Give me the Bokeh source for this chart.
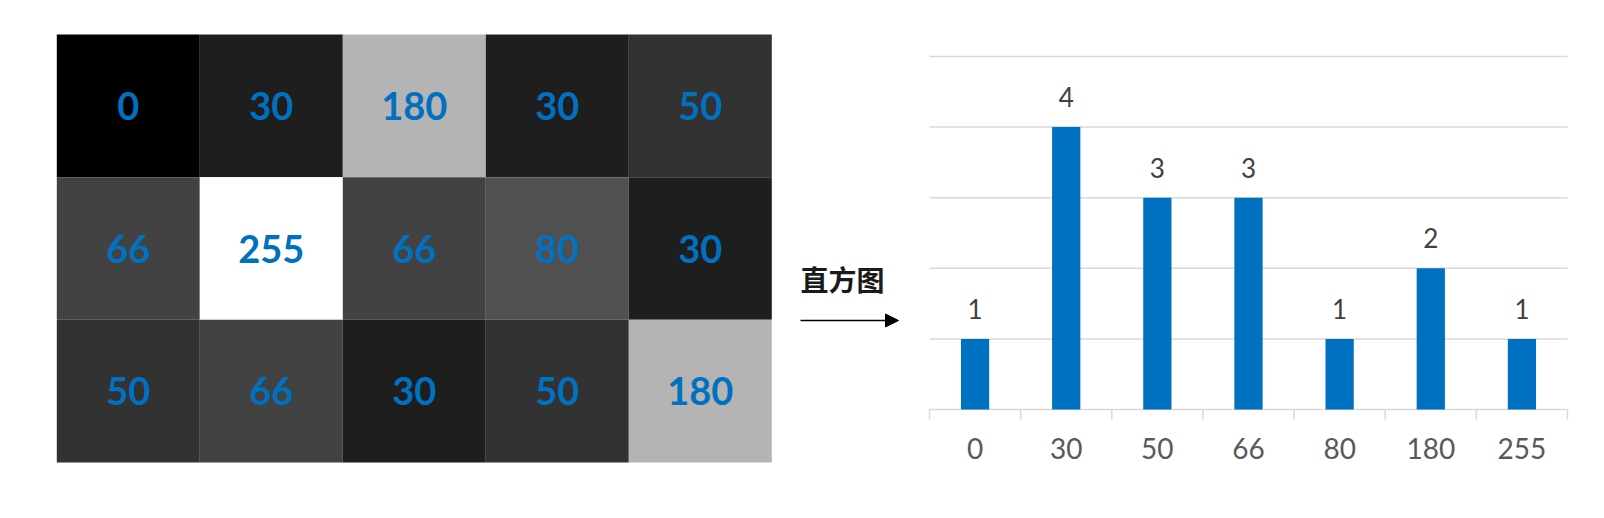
from bokeh.plotting import figure
from bokeh.layouts import row
from bokeh.models import ColumnDataSource, Range1d, Arrow, NormalHead, Label
from bokeh.core.properties import value
from bokeh.embed import file_html
from bokeh.resources import INLINE

# ---- data ----
pixel_values = [
    [0, 30, 180, 30, 50],
    [66, 255, 66, 80, 30],
    [50, 66, 30, 50, 180],
]
hist_levels = ["0", "30", "50", "66", "80", "180", "255"]
hist_counts = [1, 4, 3, 3, 1, 2, 1]
grid_levels = [0, 1, 2, 3, 4, 5]
arrow_title = "直方图"

BLUE = "#0070c0"
GRID = "#d9d9d9"
H = 510


def rng(p0, p1, d0, d1, size):
    """Range so that data d0 sits at pixel p0 and d1 at pixel p1 in a frame of 'size' px."""
    k = (d1 - d0) / (p1 - p0)
    return Range1d(d0 - p0 * k, d0 + (size - p0) * k)


def base_fig(w, xr, yr):
    f = figure(width=w, height=H, output_backend="svg", toolbar_location=None,
               x_range=xr, y_range=yr, min_border=0,
               x_axis_location=None, y_axis_location=None)
    f.xgrid.visible = False
    f.ygrid.visible = False
    f.outline_line_color = None
    return f


# ---- heat map of pixel values ----
n_rows = len(pixel_values)
n_cols = len(pixel_values[0])
xs, ys, cols, txt = [], [], [], []
for r, line in enumerate(pixel_values):
    for c, v in enumerate(line):
        xs.append(c + 0.5)
        ys.append(r + 0.5)
        cols.append("#%02x%02x%02x" % (v, v, v))
        txt.append(str(v))
src_a = ColumnDataSource(dict(x=xs, y=ys, color=cols, text=txt))

WA = 790
pa = base_fig(WA, rng(56.3, 771.3, 0, n_cols, WA), rng(H - 34, H - 462, 0, n_rows, H))
pa.rect(x="x", y="y", width=1, height=1, fill_color="color", line_color=None, source=src_a)
pa.text(x="x", y="y", text="text", source=src_a, text_align="center", text_baseline="middle",
        text_font=value("Lato"), text_font_style="bold", text_font_size="38px", text_color=BLUE)

# ---- arrow panel ----
WB = 110
pb = base_fig(WB, Range1d(0, WB), Range1d(H, 0))
pb.add_layout(Label(x=10, y=278, text=arrow_title, text_align="left", text_baseline="middle",
                    text_font="Noto Sans CJK SC", text_font_style="bold", text_font_size="28px",
                    text_color="#1a1a1a"))
pb.add_layout(Arrow(end=NormalHead(size=13, fill_color="black", line_color="black"),
                    x_start=10, y_start=320, x_end=108, y_end=320,
                    line_color="black", line_width=1.5))

# ---- histogram ----
WC = 696
n_cat = len(hist_levels)
pc = base_fig(WC, rng(29, 667, 0, n_cat, WC), rng(H - 409, H - 56, 0, 5, H))
unit_y = 5 / (409 - 56)

centers = [i + 0.5 for i in range(n_cat)]
src_c = ColumnDataSource(dict(x=centers, top=hist_counts,
                              label=[str(v) for v in hist_counts], cat=hist_levels))

# horizontal grid lines and baseline
pc.segment(x0=[0] * len(grid_levels), x1=[n_cat] * len(grid_levels),
           y0=grid_levels, y1=grid_levels, line_color=GRID, line_width=1.5)
# category boundary ticks below the baseline
bounds = list(range(n_cat + 1))
pc.segment(x0=bounds, x1=bounds, y0=[0] * len(bounds), y1=[-10 * unit_y] * len(bounds),
           line_color=GRID, line_width=1.5)

pc.vbar(x="x", top="top", width=0.31, bottom=0, fill_color=BLUE, line_color=None, source=src_c)
pc.text(x="x", y="top", text="label", source=src_c, text_align="center", text_baseline="bottom",
        y_offset=-20, text_font=value("Lato"), text_font_size="26px", text_color="#404040")
# category labels
pc.text(x="x", y=0, text="cat", source=src_c, text_align="center", text_baseline="middle",
        y_offset=39, text_font=value("Lato"), text_font_size="28px", text_color="#595959")

layout = row(pa, pb, pc, spacing=0)
open("out.html", "w").write(file_html(layout, INLINE))
